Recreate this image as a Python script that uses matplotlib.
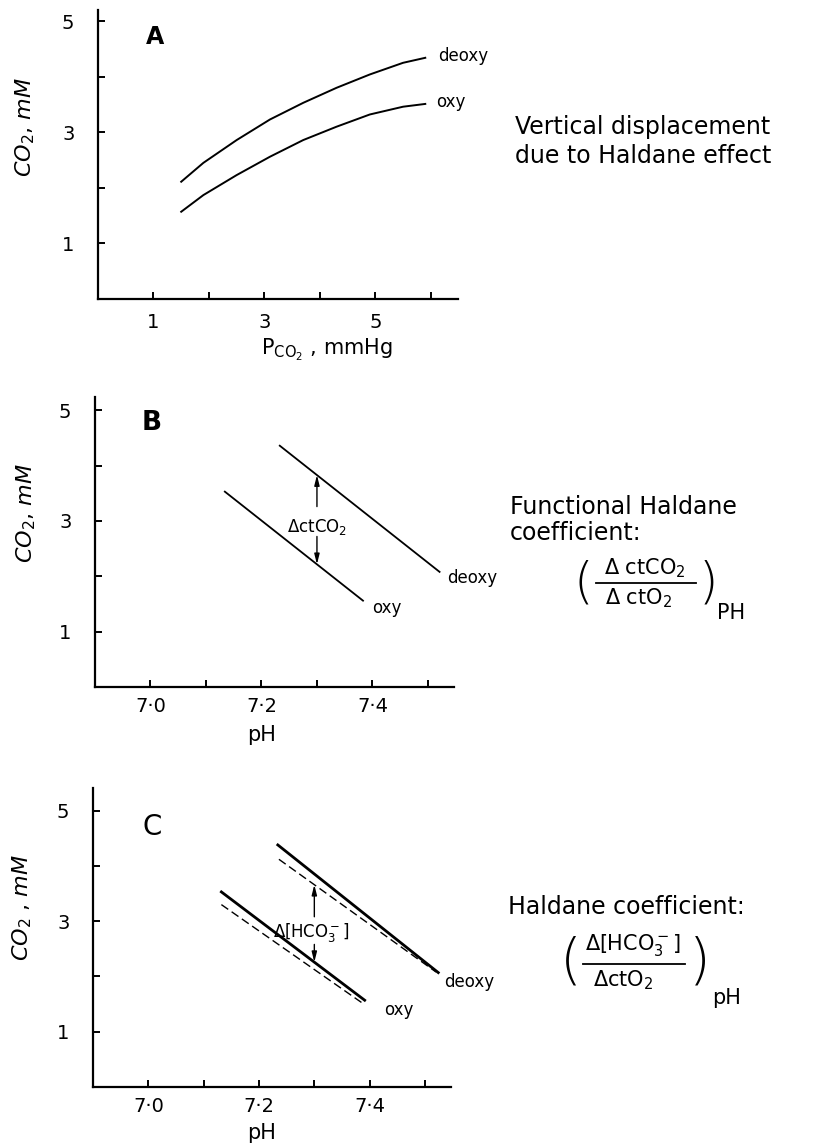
import matplotlib
matplotlib.use('Agg')
import matplotlib.pyplot as plt
import numpy as np
from matplotlib.lines import Line2D

plt.rcParams['mathtext.default'] = 'regular'
plt.rcParams['font.family'] = ['DejaVu Sans']

# Panel A: CO2 content vs PCO2
pco2 = [1.5, 1.9, 2.5, 3.1, 3.7, 4.3, 4.9, 5.5, 5.9]
co2_deoxy_a = [2.11, 2.45, 2.86, 3.23, 3.53, 3.80, 4.04, 4.25, 4.34]
co2_oxy_a = [1.57, 1.87, 2.23, 2.56, 2.86, 3.10, 3.32, 3.46, 3.51]

# Panel B: CO2 content vs pH
ph_deoxy_b = [7.233, 7.521]
co2_deoxy_b = [4.36, 2.08]
ph_oxy_b = [7.134, 7.383]
co2_oxy_b = [3.53, 1.56]

# Panel C: total CO2 (solid) and bicarbonate (dashed) vs pH
ph_deoxy_c = [7.234, 7.524]
co2_deoxy_c = [4.38, 2.07]
ph_deoxy_c_hco3 = [7.236, 7.520]
hco3_deoxy_c = [4.12, 2.08]
ph_oxy_c = [7.132, 7.391]
co2_oxy_c = [3.53, 1.57]
ph_oxy_c_hco3 = [7.132, 7.388]
hco3_oxy_c = [3.30, 1.51]

ph_arrow = 7.30

a_xticks = [1, 2, 3, 4, 5, 6]
a_xlabels = ['1', '', '3', '', '5', '']
y_ticks = [1, 2, 3, 4, 5]
y_labels = ['1', '', '3', '', '5']
ph_ticks = [7.0, 7.1, 7.2, 7.3, 7.4, 7.5]
ph_labels = ['7·0', '', '7·2', '', '7·4', '']

W, H = 832, 1144


def fx(px):
    return px / W


def fy(py):
    return 1 - py / H


def style(ax, xpad):
    for s in ['top', 'right']:
        ax.spines[s].set_visible(False)
    for s in ['left', 'bottom']:
        ax.spines[s].set_linewidth(1.6)
    ax.tick_params(direction='in', length=5, width=1.4, labelsize=14)
    ax.tick_params(axis='y', pad=17)
    ax.tick_params(axis='x', pad=xpad)
    ax.set_yticks(y_ticks)
    ax.set_yticklabels(y_labels)


fig = plt.figure(figsize=(8.32, 11.44), dpi=100)

# ---- A ----
axA = fig.add_axes([fx(98), fy(299), (458 - 98) / W, (299 - 10) / H])
axA.plot(pco2, co2_deoxy_a, color='k', lw=1.4)
axA.plot(pco2, co2_oxy_a, color='k', lw=1.4)
axA.set_xlim(0, 6.49)
axA.set_ylim(0, 5.2)
style(axA, 10)
axA.set_xticks(a_xticks)
axA.set_xticklabels(a_xlabels)
axA.text(6.13, 4.38, 'deoxy', fontsize=12, va='center')
axA.text(6.10, 3.55, 'oxy', fontsize=12, va='center')

# ---- B ----
axB = fig.add_axes([fx(95), fy(687), (454 - 95) / W, (687 - 397) / H])
axB.plot(ph_deoxy_b, co2_deoxy_b, color='k', lw=1.3)
axB.plot(ph_oxy_b, co2_oxy_b, color='k', lw=1.3)
axB.set_xlim(6.9, 7.547)
axB.set_ylim(0, 5.24)
style(axB, 7)
axB.set_xticks(ph_ticks)
axB.set_xticklabels(ph_labels)
axB.text(7.534, 1.97, 'deoxy', fontsize=12, va='center')
axB.text(7.40, 1.43, 'oxy', fontsize=12, va='center')
top_b = np.interp(ph_arrow, ph_deoxy_b, co2_deoxy_b)
bot_b = np.interp(ph_arrow, ph_oxy_b, co2_oxy_b)
arr = dict(arrowstyle='-|>,head_width=0.15,head_length=0.6', color='k', lw=1.0,
           shrinkA=0, shrinkB=0)
axB.annotate('', xy=(ph_arrow, top_b), xytext=(ph_arrow, 3.26), arrowprops=arr)
axB.annotate('', xy=(ph_arrow, bot_b), xytext=(ph_arrow, 2.72), arrowprops=arr)
axB.text(ph_arrow, 2.90, r'$\mathit{\Delta}$ctCO$_2$', fontsize=12, ha='center', va='center')

# ---- C ----
axC = fig.add_axes([fx(93), fy(1087), (451 - 93) / W, (1087 - 788) / H])
axC.plot(ph_deoxy_c, co2_deoxy_c, color='k', lw=2.0)
axC.plot(ph_deoxy_c_hco3, hco3_deoxy_c, color='k', lw=1.0, dashes=(6, 3))
axC.plot(ph_oxy_c, co2_oxy_c, color='k', lw=2.0)
axC.plot(ph_oxy_c_hco3, hco3_oxy_c, color='k', lw=1.0, dashes=(6, 3))
axC.set_xlim(6.9, 7.547)
axC.set_ylim(0, 5.41)
style(axC, 7)
axC.set_xticks(ph_ticks)
axC.set_xticklabels(ph_labels)
axC.text(7.534, 1.90, 'deoxy', fontsize=12, va='center')
axC.text(7.426, 1.39, 'oxy', fontsize=12, va='center')
top_c = np.interp(ph_arrow, ph_deoxy_c_hco3, hco3_deoxy_c)
bot_c = np.interp(ph_arrow, ph_oxy_c, co2_oxy_c)
axC.annotate('', xy=(ph_arrow, top_c), xytext=(ph_arrow, 3.08), arrowprops=arr)
axC.annotate('', xy=(ph_arrow, bot_c), xytext=(ph_arrow, 2.58), arrowprops=arr)
axC.text(ph_arrow - 0.005, 2.80, r'$\mathit{\Delta}$[HCO$_3^-$]',
         fontsize=12, ha='center', va='center')

# axis labels
ylab = r'$\mathit{CO_2}$, $\mathit{mM}$'
fig.text(fx(25), fy(127), ylab, rotation=90, fontsize=16, ha='center', va='center')
fig.text(fx(26), fy(513), ylab, rotation=90, fontsize=16, ha='center', va='center')
fig.text(fx(22), fy(907), r'$\mathit{CO_2}$ , $\mathit{mM}$', rotation=90, fontsize=16,
         ha='center', va='center')
fig.text(fx(327), fy(350), r'P$_{CO_2}$ , mmHg', fontsize=15, ha='center', va='center')
fig.text(fx(262), fy(735), 'pH', fontsize=15, ha='center', va='center')
fig.text(fx(262), fy(1133), 'pH', fontsize=15, ha='center', va='center')

# panel letters
fig.text(fx(155), fy(37), 'A', fontsize=17, fontweight='bold', ha='center', va='center')
fig.text(fx(152), fy(423), 'B', fontsize=19, fontweight='bold', ha='center', va='center')
fig.text(fx(152), fy(827), 'C', fontsize=20, ha='center', va='center')

# right-hand notes
fig.text(fx(515), fy(127), 'Vertical displacement', fontsize=17, va='center')
fig.text(fx(515), fy(156), 'due to Haldane effect', fontsize=17, va='center')

fig.text(fx(510), fy(507), 'Functional Haldane', fontsize=17, va='center')
fig.text(fx(510), fy(533), 'coefficient:', fontsize=17, va='center')
fig.text(fx(583), fy(583), '(', fontsize=36, fontweight='light', ha='center', va='center')
fig.text(fx(645), fy(568), r'$\mathit{\Delta}$ ctCO$_2$', fontsize=15, ha='center', va='center')
fig.add_artist(Line2D([fx(596), fx(696)], [fy(583), fy(583)], color='k', lw=1.3,
                      transform=fig.transFigure))
fig.text(fx(639), fy(598), r'$\mathit{\Delta}$ ctO$_2$', fontsize=15, ha='center', va='center')
fig.text(fx(708), fy(583), ')', fontsize=36, fontweight='light', ha='center', va='center')
fig.text(fx(717), fy(613), 'PH', fontsize=15, va='center')

fig.text(fx(508), fy(907), 'Haldane coefficient:', fontsize=17, va='center')
fig.text(fx(571), fy(963), '(', fontsize=40, fontweight='light', ha='center', va='center')
fig.text(fx(633), fy(945), r'$\mathit{\Delta}$[HCO$_3^-$]', fontsize=15,
         ha='center', va='center')
fig.add_artist(Line2D([fx(583), fx(685)], [fy(964), fy(964)], color='k', lw=1.3,
                      transform=fig.transFigure))
fig.text(fx(623), fy(980), r'$\mathit{\Delta}$ctO$_2$', fontsize=15, ha='center', va='center')
fig.text(fx(700), fy(963), ')', fontsize=40, fontweight='light', ha='center', va='center')
fig.text(fx(712), fy(998), 'pH', fontsize=15, va='center')

fig.savefig('out.png', dpi=100)
